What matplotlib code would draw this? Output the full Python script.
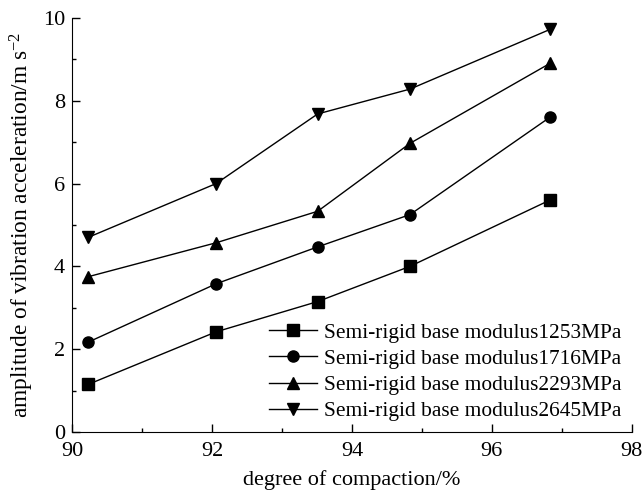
import numpy as np
import matplotlib
matplotlib.use("Agg")
import matplotlib.pyplot as plt
from matplotlib.ticker import MultipleLocator

plt.rcParams['font.family'] = ['Liberation Serif', 'DejaVu Serif']
plt.rcParams['mathtext.fontset'] = 'custom'
plt.rcParams['mathtext.rm'] = 'Liberation Serif'
plt.rcParams['mathtext.it'] = 'Liberation Serif:italic'

# grado de compactación (%)
compaction = [90.23, 92.06, 93.51, 94.83, 96.83]

# amplitud de aceleración para cada módulo
acc_1253 = [1.15, 2.42, 3.15, 4.00, 5.60]
acc_1716 = [2.17, 3.58, 4.47, 5.25, 7.60]
acc_2293 = [3.75, 4.57, 5.33, 6.97, 8.90]
acc_2645 = [4.70, 6.00, 7.68, 8.28, 9.72]

labels = ["Semi-rigid base modulus1253MPa", "Semi-rigid base modulus1716MPa",
          "Semi-rigid base modulus2293MPa", "Semi-rigid base modulus2645MPa"]
markers = ["s", "o", "^", "v"]

fig = plt.figure(figsize=(6.44, 4.96), dpi=100)
ax = fig.add_axes([0.112, 0.129, 0.869, 0.835])

for serie, m, lab in zip([acc_1253, acc_1716, acc_2293, acc_2645], markers, labels):
    ax.plot(compaction, serie, color='black', marker=m, markersize=8, linewidth=1, label=lab)

ax.set_xlim(90, 98)
ax.set_ylim(0, 10)
ax.xaxis.set_major_locator(MultipleLocator(2))
ax.xaxis.set_minor_locator(MultipleLocator(1))
ax.yaxis.set_major_locator(MultipleLocator(2))
ax.yaxis.set_minor_locator(MultipleLocator(1))
ax.tick_params(which='major', direction='in', length=6, labelsize=16, width=1)
ax.tick_params(which='minor', direction='in', length=3, width=1)
ax.tick_params(axis='x', pad=7)
ax.tick_params(axis='y', pad=5)
ax.spines['top'].set_visible(False)
ax.spines['right'].set_visible(False)

ax.set_xlabel("degree of compaction/%", fontsize=16, labelpad=7)
ax.set_ylabel(r"amplitude of vibration acceleration/m s$^{-2}$", fontsize=16.8, labelpad=5)

ax.legend(loc='lower right', bbox_to_anchor=(1.0, 0.0), frameon=False, fontsize=15.4,
          handlelength=2.2, labelspacing=0.29, handletextpad=0.33, borderaxespad=0.1)

fig.savefig("out.png", dpi=100)
